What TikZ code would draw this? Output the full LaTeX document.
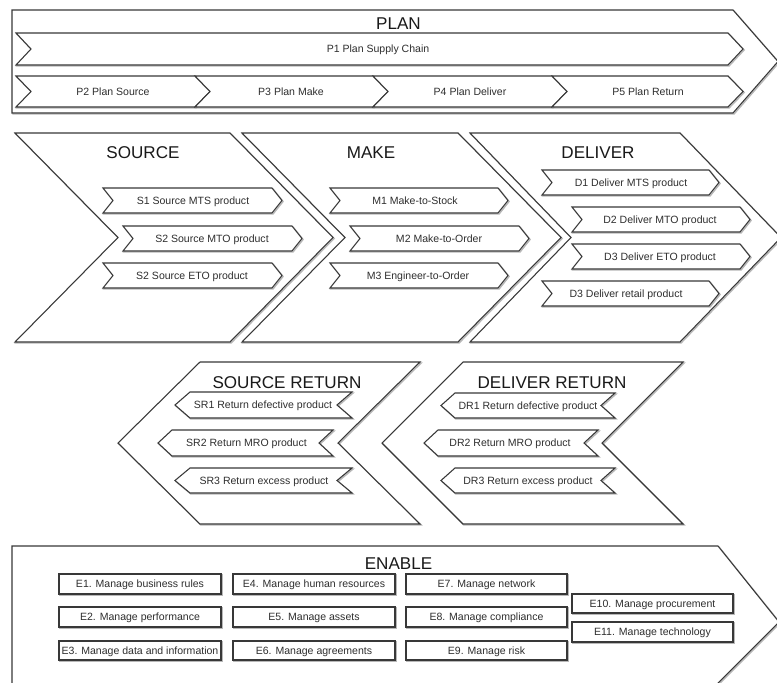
\documentclass[tikz,border=0pt]{standalone}
\usepackage{fontspec}
\setmainfont{Liberation Sans}

% right-pointing chevron: left x, right x, top y, bottom y, point depth
\newcommand{\ChevRight}[5]{%
  \path[shade] (#1,#3) -- (#2,#3) -- ({#2+#5},{(#3+#4)/2}) -- (#2,#4) -- (#1,#4) -- ({#1+#5},{(#3+#4)/2}) -- cycle;
  \path[outline] (#1,#3) -- (#2,#3) -- ({#2+#5},{(#3+#4)/2}) -- (#2,#4) -- (#1,#4) -- ({#1+#5},{(#3+#4)/2}) -- cycle;}
% left-pointing chevron: left x, right x, top y, bottom y, point depth
\newcommand{\ChevLeft}[5]{%
  \path[shade] (#1,#3) -- (#2,#3) -- ({#2-#5},{(#3+#4)/2}) -- (#2,#4) -- (#1,#4) -- ({#1-#5},{(#3+#4)/2}) -- cycle;
  \path[outline] (#1,#3) -- (#2,#3) -- ({#2-#5},{(#3+#4)/2}) -- (#2,#4) -- (#1,#4) -- ({#1-#5},{(#3+#4)/2}) -- cycle;}
% plain box: x0, y0, x1, y1
\newcommand{\PlainBox}[4]{%
  \path[shade] (#1,#2) rectangle (#3,#4);
  \path[outline] (#1,#2) rectangle (#3,#4);}

\begin{document}
\begin{tikzpicture}[x=0.75pt,y=-0.75pt,
  outline/.style={draw=black!78, line width=0.8pt, fill=white, line join=miter},
  shade/.style={draw=black!28, line width=1.1pt, shift={(1,1)}},
  label/.style={text=black!82, font=\fontsize{7.9}{9}\selectfont, inner sep=0pt, text height=5.7pt, text depth=0pt},
  title/.style={text=black!90, font=\fontsize{12.8}{14}\selectfont, inner sep=0pt, text height=9.2pt, text depth=0pt},
]
\useasboundingbox (0,0) rectangle (777,682);
\fill[white] (0,0) rectangle (777,682);
\clip (0,0) rectangle (777,682);

% ---------- PLAN ----------
\path[shade] (12,10) -- (733,10) -- (778,61.5) -- (733,113) -- (12,113) -- cycle;
\path[outline] (12,10) -- (733,10) -- (778,61.5) -- (733,113) -- (12,113) -- cycle;
\node[title] (plan) at (398.5,23) {PLAN};
\ChevRight{16}{728}{33}{65}{15}
\node[label] (p1) at (378,49) {P1 Plan Supply Chain};
\ChevRight{16}{195}{76}{107}{15}
\ChevRight{195}{373}{76}{107}{15}
\ChevRight{373}{552}{76}{107}{15}
\ChevRight{552}{728}{76}{107}{15}
\node[label] (p2) at (113,92) {P2 Plan Source};
\node[label] (p3) at (291,92) {P3 Plan Make};
\node[label] (p4) at (470,92) {P4 Plan Deliver};
\node[label] (p5) at (648,92) {P5 Plan Return};

% ---------- SOURCE / MAKE / DELIVER ----------
\ChevRight{15}{230}{133}{342}{103}
\ChevRight{242}{458}{133}{342}{103}
\ChevRight{470}{680}{133}{342}{101}
\node[title] (source) at (143,152) {SOURCE};
\node[title] (make) at (371,152) {MAKE};
\node[title] (deliver) at (598,152) {DELIVER};

\ChevRight{103}{272}{188}{213}{10}
\ChevRight{123}{292}{226}{251}{10}
\ChevRight{103}{272}{263}{288}{10}
\node[label] (s1) at (193,200.5) {S1 Source MTS product};
\node[label] (s2) at (212,238.5) {S2 Source MTO product};
\node[label] (s3) at (192,275.5) {S2 Source ETO product};

\ChevRight{330}{498}{188}{213}{10}
\ChevRight{350}{519}{226}{251}{10}
\ChevRight{330}{498}{263}{288}{10}
\node[label] (m1) at (415,200.5) {M1 Make-to-Stock};
\node[label] (m2) at (439,238.5) {M2 Make-to-Order};
\node[label] (m3) at (418,275.5) {M3 Engineer-to-Order};

\ChevRight{542}{709}{170}{195}{10}
\ChevRight{572}{740}{207}{232}{10}
\ChevRight{572}{740}{244}{269}{10}
\ChevRight{542}{709}{281}{306}{10}
\node[label] (d1) at (631,182.5) {D1 Deliver MTS product};
\node[label] (d2) at (660,219.5) {D2 Deliver MTO product};
\node[label] (d3) at (660,256.5) {D3 Deliver ETO product};
\node[label] (d4) at (626,293.5) {D3 Deliver retail product};

% ---------- RETURNS ----------
\ChevLeft{200}{420}{362}{524}{82}
\ChevLeft{463}{683}{362}{524}{81}
\node[title] (sreturn) at (287,382) {SOURCE RETURN};
\node[title] (dreturn) at (552,382) {DELIVER RETURN};

\ChevLeft{190}{352}{392}{418}{15}
\ChevLeft{172}{333}{430}{456}{14}
\ChevLeft{190}{352}{468}{493}{15}
\node[label] (sr1) at (263,405) {SR1 Return defective product};
\node[label] (sr2) at (246.5,443) {SR2 Return MRO product};
\node[label] (sr3) at (264,480.5) {SR3 Return excess product};

\ChevLeft{455}{615}{393}{418}{14}
\ChevLeft{438}{598}{430}{456}{14}
\ChevLeft{455}{615}{468}{493}{14}
\node[label] (dr1) at (528,405.5) {DR1 Return defective product};
\node[label] (dr2) at (510,443) {DR2 Return MRO product};
\node[label] (dr3) at (528,480.5) {DR3 Return excess product};

% ---------- ENABLE ----------
\path[shade] (12,546) -- (718,546) -- (779,622) -- (715,686) -- (12,686) -- cycle;
\path[outline] (12,546) -- (718,546) -- (779,622) -- (715,686) -- (12,686) -- cycle;
\node[title] (enable) at (398.5,563) {ENABLE};

\PlainBox{59}{574}{221}{594}
\PlainBox{59}{607}{221}{627}
\PlainBox{59}{641}{221}{660}
\PlainBox{233}{574}{395}{594}
\PlainBox{233}{607}{395}{627}
\PlainBox{233}{641}{395}{660}
\PlainBox{406}{574}{567}{594}
\PlainBox{406}{607}{567}{627}
\PlainBox{406}{641}{567}{660}
\PlainBox{572}{594}{733}{613}
\PlainBox{572}{622}{733}{642}
\node[label] (e1) at (140,584) {E1. Manage business rules};
\node[label] (e2) at (140,617) {E2. Manage performance};
\node[label] (e3) at (140,650.5) {E3. Manage data and information};
\node[label] (e4) at (314,584) {E4. Manage human resources};
\node[label] (e5) at (314,617) {E5. Manage assets};
\node[label] (e6) at (314,650.5) {E6. Manage agreements};
\node[label] (e7) at (486.5,584) {E7. Manage network};
\node[label] (e8) at (486.5,617) {E8. Manage compliance};
\node[label] (e9) at (486.5,650.5) {E9. Manage risk};
\node[label] (e10) at (652.5,603.5) {E10. Manage procurement};
\node[label] (e11) at (652.5,632) {E11. Manage technology};
\end{tikzpicture}
\end{document}
